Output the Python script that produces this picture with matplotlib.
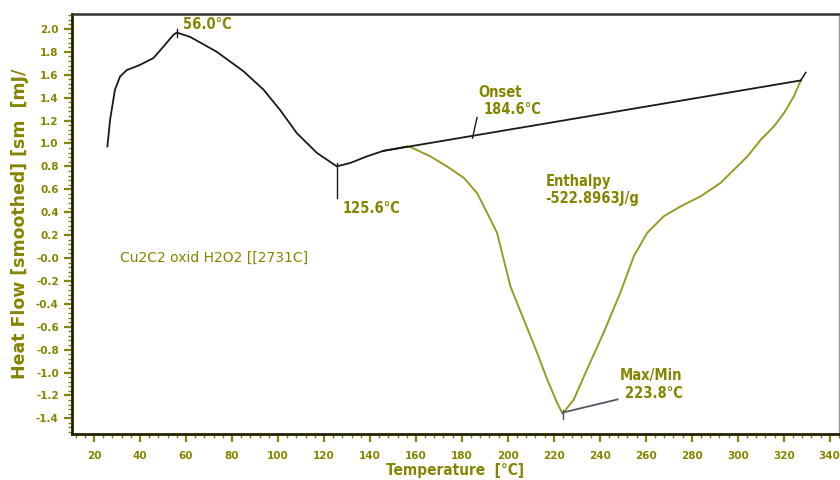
import matplotlib
matplotlib.use("Agg")
import matplotlib.pyplot as plt
from matplotlib.ticker import FixedLocator, MultipleLocator

# DSC trace, first part (black) and the exothermic peak (olive)
temp_black = [25.8, 27.0, 29.1, 31.3, 34.2, 40.0, 45.8, 50.2, 54.5, 56.0, 61.8,
              73.4, 85.0, 93.7, 101.0, 108.2, 117.0, 125.6, 131.5, 138.7, 145.8, 156.1]
flow_black = [0.974, 1.21, 1.47, 1.584, 1.64, 1.686, 1.745, 1.846, 1.948, 1.968, 1.93,
              1.80, 1.63, 1.47, 1.29, 1.09, 0.916, 0.80, 0.83, 0.887, 0.935, 0.972]

temp_peak = [156.1, 157.6, 166.3, 173.5, 180.8, 186.6, 191.0, 195.3, 201.1, 206.9,
             212.7, 217.1, 221.4, 223.8, 228.7, 234.5, 241.7, 249.0, 254.8, 260.6,
             267.8, 275.1, 283.8, 292.5, 298.3, 304.2, 309.9, 315.7, 320.1, 324.4, 327.4]
flow_peak = [0.972, 0.969, 0.887, 0.80, 0.70, 0.567, 0.393, 0.219, -0.247, -0.537,
             -0.827, -1.06, -1.263, -1.36, -1.235, -0.97, -0.65, -0.30, 0.016, 0.219,
             0.364, 0.45, 0.538, 0.655, 0.77, 0.887, 1.03, 1.148, 1.265, 1.41, 1.55]

# integration baseline
base_temp = [145.8, 327.4]
base_flow = [0.935, 1.55]

peak_max_t, peak_max_v = 56.0, 1.968
peak_min_t, peak_min_v = 125.6, 0.80
onset_t = 184.6
maxmin_t, maxmin_v = 223.8, -1.36
enthalpy = -522.8963

x_ticks = list(range(20, 341, 20))
y_ticks = [2.0, 1.8, 1.6, 1.4, 1.2, 1.0, 0.8, 0.6, 0.4, 0.2, 0.0,
           -0.2, -0.4, -0.6, -0.8, -1.0, -1.2, -1.4]
y_labels = ["2.0", "1.8", "1.6", "1.4", "1.2", "1.0", "0.8", "0.6", "0.4", "0.2", "-0.0",
            "-0.2", "-0.4", "-0.6", "-0.8", "-1.0", "-1.2", "-1.4"]

olive = "#858500"
curve_olive = "#999926"

fig = plt.figure(figsize=(8.4, 4.8), dpi=100)
ax = fig.add_axes([0.0857, 0.0958, 0.913, 0.875])

ax.plot(temp_black, flow_black, color="#1a1a1a", lw=1.3)
ax.plot(temp_peak, flow_peak, color=curve_olive, lw=1.4)
ax.plot(base_temp, base_flow, color="#1a1a1a", lw=1.3)
# small end mark on the baseline
ax.plot([base_temp[1], base_temp[1] + 2.2], [base_flow[1], base_flow[1] + 0.07], color="#1a1a1a", lw=1.1)

# markers at max / min points
ax.plot([peak_max_t, peak_max_t], [peak_max_v - 0.04, peak_max_v + 0.03], color="#1a1a1a", lw=1)
ax.plot([peak_min_t, peak_min_t], [peak_min_v + 0.03, peak_min_v - 0.28], color="#1a1a1a", lw=1)
slope = (base_flow[1] - base_flow[0]) / (base_temp[1] - base_temp[0])
onset_v = base_flow[0] + (onset_t - base_temp[0]) * slope
ax.plot([onset_t, onset_t + 2.0], [onset_v - 0.02, onset_v + 0.16], color="#1a1a1a", lw=1)
ax.plot([maxmin_t, maxmin_t], [maxmin_v - 0.05, maxmin_v + 0.03], color="#555566", lw=1)
ax.plot([maxmin_t, maxmin_t + 23.9], [maxmin_v + 0.01, maxmin_v + 0.125], color="#555566", lw=1.3)

tkw = dict(color=olive, fontweight="bold", family="DejaVu Sans", fontstretch="condensed", fontsize=10.5)
ax.text(peak_max_t + 2.7, 2.04, "%.1f°C" % peak_max_t, va="center", **tkw)
ax.text(peak_min_t + 2.4, peak_min_v - 0.37, "%.1f°C" % peak_min_t, va="center", **tkw)
ax.text(onset_t + 2.6, 1.445, "Onset", va="center", **tkw)
ax.text(onset_t + 4.8, 1.30, "%.1f°C" % onset_t, va="center", **tkw)
ax.text(216.3, 0.67, "Enthalpy", va="center", **tkw)
ax.text(216.3, 0.52, "%.4fJ/g" % enthalpy, va="center", **tkw)
ax.text(276.0, -1.03, "Max/Min", va="center", ha="right", **tkw)
ax.text(276.0, -1.185, "%.1f°C" % maxmin_t, va="center", ha="right", **tkw)
ax.text(31.3, 0.0, "Cu2C2 oxid H2O2 [[2731C]", va="center", color=olive,
        family="DejaVu Sans", fontsize=10)

ax.set_xlim(10.4, 344)
ax.set_ylim(-1.537, 2.13)

ax.xaxis.set_major_locator(FixedLocator(x_ticks))
ax.xaxis.set_minor_locator(MultipleLocator(4))
ax.yaxis.set_major_locator(FixedLocator(y_ticks))
ax.set_yticklabels(y_labels)
ax.yaxis.set_minor_locator(MultipleLocator(0.04))

ax.tick_params(which="major", direction="out", length=6, width=1.6, color=olive,
               labelcolor=olive, labelsize=7.5)
ax.tick_params(which="minor", direction="out", length=3, width=1, color=olive)
ax.tick_params(axis="x", which="major", pad=6)
for lab in ax.get_xticklabels() + ax.get_yticklabels():
    lab.set_fontweight("bold")

ax.spines["left"].set_linewidth(2)
ax.spines["bottom"].set_linewidth(2)
ax.spines["left"].set_color("#222200")
ax.spines["bottom"].set_color("#222200")
ax.spines["top"].set_linewidth(1.8)
ax.spines["top"].set_color("#333333")
ax.spines["right"].set_linewidth(1)
ax.spines["right"].set_color("#999999")

ax.set_xlabel("Temperature  [°C]", color=olive, fontweight="bold", family="DejaVu Sans",
              fontstretch="condensed", fontsize=11, labelpad=2)
ax.set_ylabel("Heat Flow [smoothed] [sm  [mJ/", color=olive, fontweight="bold",
              fontsize=12.5, labelpad=5)

fig.savefig("out.png", dpi=100)
